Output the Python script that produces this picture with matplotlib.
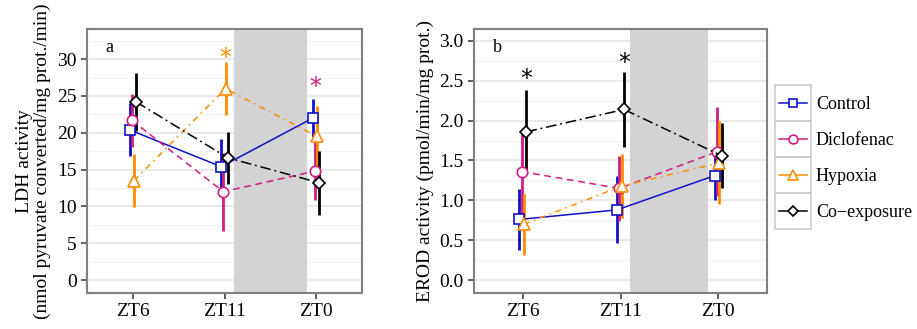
import matplotlib
matplotlib.use("Agg")
import matplotlib.pyplot as plt
import numpy as np
from matplotlib.lines import Line2D
from matplotlib.patches import Rectangle

plt.rcParams['font.family'] = ['Liberation Serif', 'DejaVu Serif']

times = ["ZT6", "ZT11", "ZT0"]
groups = ["Control", "Diclofenac", "Hypoxia", "Co\u2212exposure"]

# LDH activity (panel a): means and error half-widths
ldh_mean = {
    "Control":    [20.4, 15.4, 22.0],
    "Diclofenac": [21.7, 12.0, 14.8],
    "Hypoxia":    [13.5, 26.0, 19.5],
    "Co-exposure": [24.2, 16.6, 13.2],
}
ldh_err = {
    "Control":    [3.6, 3.7, 2.6],
    "Diclofenac": [3.6, 5.3, 3.9],
    "Hypoxia":    [3.6, 3.6, 4.1],
    "Co-exposure": [3.9, 3.5, 4.3],
}

# EROD activity (panel b)
erod_mean = {
    "Control":    [0.76, 0.88, 1.31],
    "Diclofenac": [1.36, 1.15, 1.61],
    "Hypoxia":    [0.70, 1.18, 1.47],
    "Co-exposure": [1.86, 2.14, 1.56],
}
erod_err = {
    "Control":    [0.38, 0.42, 0.30],
    "Diclofenac": [0.53, 0.41, 0.56],
    "Hypoxia":    [0.38, 0.40, 0.52],
    "Co-exposure": [0.52, 0.47, 0.41],
}

# significance stars: (time index, group, y)
ldh_stars = [(1, "Hypoxia", 30.1), (2, "Diclofenac", 26.2)]
erod_stars = [(0, "Co-exposure", 2.52), (1, "Co-exposure", 2.72)]

keys = ["Control", "Diclofenac", "Hypoxia", "Co-exposure"]
colors = {"Control": "#1010CC", "Diclofenac": "#D21C80",
          "Hypoxia": "#FF8C00", "Co-exposure": "#000000"}
markers = {"Control": ("s", 7), "Diclofenac": ("o", 7.5),
           "Hypoxia": ("^", 9), "Co-exposure": ("D", 6.5)}
styles = {"Control": "-", "Diclofenac": (0, (4.5, 3)),
          "Hypoxia": (0, (4, 3, 1, 3)), "Co-exposure": (0, (7, 2.5, 1.2, 2.5))}
dodge = {"Control": -0.036, "Diclofenac": -0.012, "Hypoxia": 0.012, "Co-exposure": 0.036}

fig = plt.figure(figsize=(9.17, 3.29), dpi=100)
ax1 = fig.add_axes([87/917, 36/329, 275/917, 264/329])
ax2 = fig.add_axes([474/917, 36/329, 293/917, 264/329])

x = np.arange(1, 4)


def draw_panel(ax, means, errs, stars, ylim, major, minor, label, ylabel):
    ax.axvspan(2.1, 2.9, color="#D3D3D3", zorder=1, lw=0)
    for k in keys:
        xs = x + dodge[k]
        m, ms = markers[k]
        ax.errorbar(xs, means[k], yerr=errs[k], fmt="none", ecolor=colors[k],
                     elinewidth=2.0, capsize=0, zorder=3)
        ax.plot(xs, means[k], color=colors[k], ls=styles[k], lw=1.1,
                marker=m, ms=ms, mfc="white", mec=colors[k], mew=1.2, zorder=4)
    for ti, g, yv in stars:
        ax.text(x[ti] + dodge[g], yv, "*", color=colors[g], fontsize=17,
                ha="center", va="center", fontfamily="DejaVu Sans", zorder=5)
    ax.set_xlim(0.5, 3.5)
    ax.set_ylim(*ylim)
    ax.set_xticks(x)
    ax.set_xticklabels(times)
    ax.set_yticks(major)
    ax.set_yticks(minor, minor=True)
    ax.grid(True, which="major", axis="y", color="#E6E6E6", lw=1.2, zorder=0)
    ax.grid(True, which="minor", axis="y", color="#F2F2F2", lw=0.8, zorder=0)
    ax.set_axisbelow(True)
    ax.tick_params(axis="both", which="major", labelsize=14, length=4.5,
                   width=1.1, color="#333333", pad=3)
    ax.tick_params(axis="y", which="minor", length=0)
    for s in ax.spines.values():
        s.set_color("#7F7F7F")
        s.set_linewidth(1.5)
    ax.text(0.065, 0.93, label, transform=ax.transAxes, fontsize=13,
            ha="left", va="center")
    ax.set_ylabel(ylabel, fontsize=14, linespacing=1.1)


draw_panel(ax1, ldh_mean, ldh_err, ldh_stars, (-1.76, 34.1),
           np.arange(0, 31, 5), np.arange(2.5, 34, 5), "a",
           "LDH activity\n(nmol pyruvate converted/mg prot./min)")
draw_panel(ax2, erod_mean, erod_err, erod_stars, (-0.163, 3.15),
           np.arange(0, 3.01, 0.5), np.arange(0.25, 3.2, 0.5), "b",
           "EROD activity (pmol/min/mg prot.)")
ax2.set_yticklabels(["%.1f" % v for v in np.arange(0, 3.01, 0.5)])

handles = [Line2D([], [], color=colors[k], ls="-", lw=1.1, marker=markers[k][0],
                  ms=markers[k][1] * 0.85, mfc="white", mec=colors[k], mew=1.2)
           for k in keys]
leg = fig.legend(handles, groups, loc="center left",
                 bbox_to_anchor=(779/917, 1 - 158.5/329), frameon=False,
                 fontsize=13, handlelength=1.55, handletextpad=0.5,
                 labelspacing=1.05, borderpad=0, borderaxespad=0)

# grey key boxes as in the original legend
fig.canvas.draw()
for ln in leg.get_lines():
    bb = ln.get_window_extent()
    cx = (bb.x0 + bb.x1) / 2
    cy = (bb.y0 + bb.y1) / 2
    fig.patches.append(Rectangle(((cx - 18) / 917, (cy - 18) / 329), 36/917, 36/329,
                                 transform=fig.transFigure, fill=False,
                                 ec="#CCCCCC", lw=1.2, zorder=0))

fig.savefig("out.png", dpi=100)
